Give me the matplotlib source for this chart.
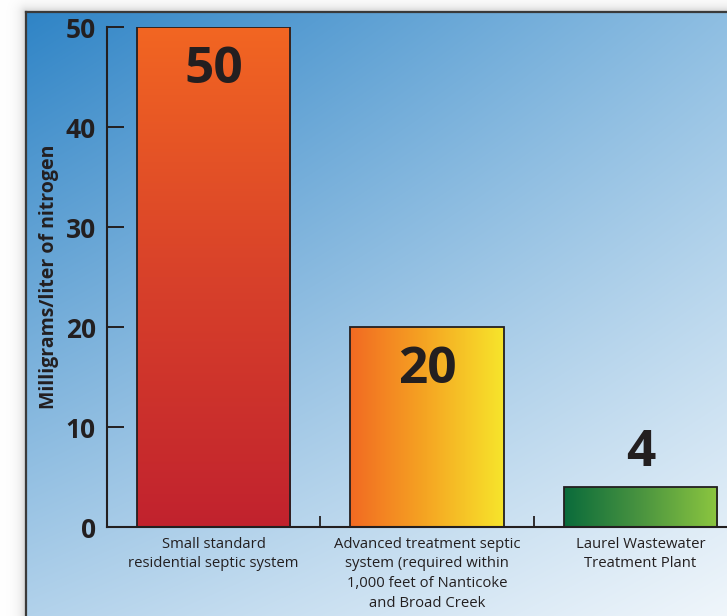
import numpy as np
import matplotlib
matplotlib.use("Agg")
import matplotlib.pyplot as plt
from matplotlib.colors import LinearSegmentedColormap, to_rgb
from matplotlib.lines import Line2D

plt.rcParams["font.family"] = ["Open Sans", "DejaVu Sans"]

categories = [
    "Small standard\nresidential septic system",
    "Advanced treatment septic\nsystem (required within\n1,000 feet of Nanticoke\nand Broad Creek",
    "Laurel Wastewater\nTreatment Plant",
]
values = [50, 20, 4]
yticks = [0, 10, 20, 30, 40, 50]
ylabel = "Milligrams/liter of nitrogen"

# fill gradients per bar: colour stops and direction
bar_fills = [
    (["#c1222e", "#d8412a", "#f26622"], "vertical"),
    (["#f26a22", "#f5a623", "#f7e52b"], "horizontal"),
    (["#0a6b3b", "#4a9440", "#8cc63f"], "horizontal"),
]
ink = "#231f20"

W, H = 727, 616
fig = plt.figure(figsize=(W / 100, H / 100), dpi=100)

# panel background: soft drop shadow + blue gradient
px, py = 26, 12
yy, xx = np.mgrid[0:H, 0:W].astype(float)
bg = np.ones((H, W, 3))
dx = np.clip(px - xx, 0, None)
dy = np.clip(py - yy, 0, None)
d = np.hypot(dx, dy)
shade = 1 - 0.22 * np.exp(-d / 5.0)
bg *= shade[..., None]
inside = (xx >= px) & (yy >= py)
u = (xx - px) / (W - px)
v = (yy - py) / (H - py)
tl, tr = np.array(to_rgb("#2f84c6")), np.array(to_rgb("#8ebee2"))
bl, br = np.array(to_rgb("#b2d2eb")), np.array(to_rgb("#f0f6fb"))
grad = ((1 - u)[..., None] * (1 - v)[..., None] * tl + u[..., None] * (1 - v)[..., None] * tr
        + (1 - u)[..., None] * v[..., None] * bl + u[..., None] * v[..., None] * br)
bg[inside] = grad[inside]
fig.figimage(bg, origin="upper", zorder=-10)

fig.add_artist(Line2D([px / W, 1], [1 - py / H] * 2, color="#3a3a3a", lw=1.6))
fig.add_artist(Line2D([px / W] * 2, [0, 1 - py / H], color="#3a3a3a", lw=1.6))

ax = fig.add_axes([107 / W, 89 / H, 640 / W, 500 / H])
ax.set_facecolor("none")

x = np.arange(len(values))
bw = 0.72
bars = ax.bar(x, values, bw, facecolor="none", edgecolor=ink, linewidth=1.3, zorder=3)
for rect, (cols, direction) in zip(bars, bar_fills):
    cmap = LinearSegmentedColormap.from_list("", cols)
    ramp = np.linspace(0, 1, 256)
    ramp = ramp.reshape(-1, 1) if direction == "vertical" else ramp.reshape(1, -1)
    x0 = rect.get_x()
    im = ax.imshow(ramp, cmap=cmap, origin="lower", aspect="auto", zorder=2,
                   extent=[x0, x0 + rect.get_width(), 0, rect.get_height()])
    im.set_clip_path(rect)

# value labels: inside tall bars, above short ones
for xi, val in zip(x, values):
    ypos = val - 4.3 if val > 10 else val + 3.4
    ax.text(xi, ypos, str(val), ha="center", va="center",
            fontsize=37, fontweight="bold", color=ink, zorder=4)

ax.set_xlim(-0.5, 2.5)
ax.set_ylim(0, 50)

for side in ["top", "right"]:
    ax.spines[side].set_visible(False)
for side in ["left", "bottom"]:
    ax.spines[side].set_color(ink)
    ax.spines[side].set_linewidth(1.5)

ax.set_yticks(yticks)
ax.set_yticklabels([str(t) for t in yticks], fontsize=19, fontweight="bold", color=ink)
ax.tick_params(axis="y", direction="in", length=12, width=1.4, color=ink, pad=8)

ax.set_xticks(x)
ax.set_xticklabels(categories, fontsize=10.7, color=ink, linespacing=1.42, va="top")
ax.set_xticks([0.5, 1.5], minor=True)
ax.tick_params(axis="x", which="major", length=0, pad=7)
ax.tick_params(axis="x", which="minor", direction="in", length=8, width=1.3, color=ink)

ax.set_ylabel(ylabel, fontsize=14, fontweight="bold", color=ink, labelpad=5)

fig.savefig("out.png", dpi=100)
